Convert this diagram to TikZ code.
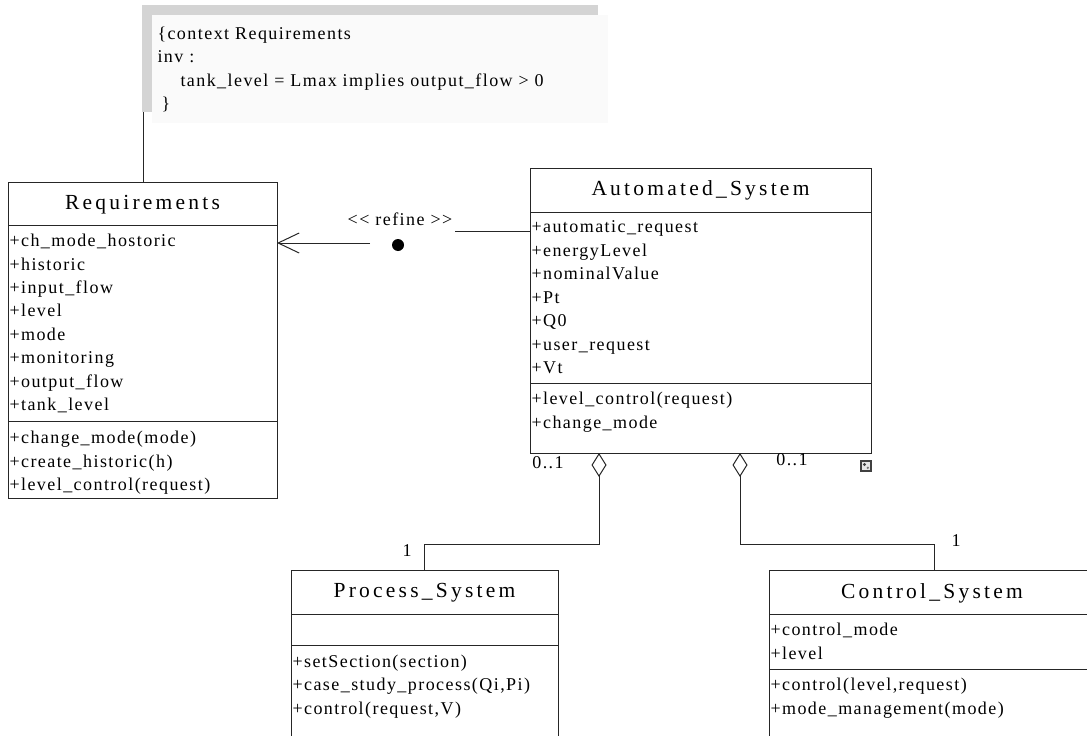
\documentclass[tikz,border=0pt]{standalone}
\usepackage{fontspec}
\setmainfont{Liberation Serif}
\usetikzlibrary{arrows.meta, positioning}

\definecolor{notefill}{HTML}{FAFAFA}
\definecolor{noteshade}{HTML}{D4D4D4}

\begin{document}
\begin{tikzpicture}[x=1pt, y=-1pt, line width=1pt,
    classbox/.style={draw=black!85, anchor=north west, inner sep=0pt, outer sep=0pt},
    ctitle/.style={inner sep=0pt, font=\fontsize{21.5}{24}\selectfont\addfontfeature{LetterSpace=15}},
    member/.style={anchor=west, inner sep=0pt, text height=12pt, text depth=4.5pt,
                   font=\fontsize{18}{20}\selectfont\addfontfeature{LetterSpace=8}},
    multlbl/.style={member, anchor=center},
    sepline/.style={draw=black!85},
    agg/.style={draw=black!85, {Diamond[open, length=24pt, width=15pt]}-}]
    \useasboundingbox (0,0) rectangle (1087,736);

    % OCL note
    \fill[noteshade] (142,5) rectangle (598,112);
    \node[fill=notefill, anchor=north west, inner sep=0pt, minimum width=456pt, minimum height=108pt] (note) at (151,14) {};
    \node[member] (note1) at (157,36) {\{context Requirements};
    \node[member] (note2) at (157,59) {inv :};
    \node[member] (note3) at (180,83) {tank\_level = Lmax implies output\_flow > 0};
    \node[member] (note4) at (161,106) {\}};

    % classes
    \node[classbox, minimum width=269pt, minimum height=316pt] (req) at (8,182) {};
    \node[ctitle] (req-t) at (142.5,205) {Requirements};
    \draw[sepline] (8,225) -- (277,225);
    \foreach \m [count=\i from 0] in {+ch\_mode\_hostoric, +historic, +input\_flow, +level,
        +mode, +monitoring, +output\_flow, +tank\_level}
      \node[member] (req-a\i) at (9,243+23.4*\i) {\m};
    \draw[sepline] (8,421) -- (277,421);
    \foreach \m [count=\i from 0] in {+change\_mode(mode), +create\_historic(h), +level\_control(request)}
      \node[member] (req-m\i) at (9,440+23.5*\i) {\m};

    \node[classbox, minimum width=341pt, minimum height=285pt] (auto) at (530,168) {};
    \node[ctitle] (auto-t) at (700.5,190) {Automated\_System};
    \draw[sepline] (530,212) -- (871,212);
    \foreach \m [count=\i from 0] in {+automatic\_request, +energyLevel, +nominalValue, +Pt,
        +Q0, +user\_request, +Vt}
      \node[member] (auto-a\i) at (531,229+23.5*\i) {\m};
    \draw[sepline] (530,383) -- (871,383);
    \foreach \m [count=\i from 0] in {+level\_control(request), +change\_mode}
      \node[member] (auto-m\i) at (531,401+23.5*\i) {\m};
    \node[draw=black!75, fill=black!10, line width=1.2pt, minimum size=10pt, inner sep=0pt] (grip) at (866,466) {};
    \fill[black!75] ([shift={(-1.5pt,1.5pt)}]grip.center) circle (1.6pt);
    \fill[black!55] ([shift={(1.8pt,-1.8pt)}]grip.center) circle (1.3pt);

    \node[classbox, minimum width=267pt, minimum height=170pt] (proc) at (291,570) {};
    \node[ctitle] (proc-t) at (424.5,593) {Process\_System};
    \draw[sepline] (291,614) -- (558,614);
    \draw[sepline] (291,645) -- (558,645);
    \foreach \m [count=\i from 0] in {+setSection(section), +case\_study\_process(Qi{,}Pi), +control(request{,}V)}
      \node[member] (proc-m\i) at (292,664+23.2*\i) {\m};

    \node[classbox, minimum width=330pt, minimum height=170pt] (ctrl) at (769,570) {};
    \node[ctitle] (ctrl-t) at (932,593) {Control\_System};
    \draw[sepline] (769,614) -- (1099,614);
    \foreach \m [count=\i from 0] in {+control\_mode, +level}
      \node[member] (ctrl-a\i) at (770,632+23.5*\i) {\m};
    \draw[sepline] (769,669) -- (1099,669);
    \foreach \m [count=\i from 0] in {+control(level{,}request), +mode\_management(mode)}
      \node[member] (ctrl-m\i) at (770,687+23.5*\i) {\m};

    % note anchor
    \coordinate (notefoot) at (143,112);
    \draw[black!85] (notefoot) -- (notefoot |- req.north);

    % refine dependency
    \coordinate (refR) at (455,231);
    \coordinate (refL) at (370,243);
    \node[multlbl] (refine) at (400,222) {\textless{}\textless{} refine \textgreater{}\textgreater};
    \node[circle, fill=black, inner sep=0pt, minimum size=12pt] (refdot) at (398,245) {};
    \draw[black!85] (auto.west |- refR) -- (refR);
    \draw[black!85, -{Straight Barb[length=21pt, width=20pt]}] (refL) -- (refL -| req.east);

    % aggregations
    \coordinate (aggL) at (599,453);
    \coordinate (aggR) at (740,453);
    \draw[agg] (aggL) -- ++(0,91) -| (proc.north);
    \draw[agg] (aggR) -- ++(0,91) -| (ctrl.north);
    \node[multlbl] (aggL-m) at (548,465) {0..1};
    \node[multlbl] (proc-m) at (407,553) {1};
    \node[multlbl] (aggR-m) at (792,462) {0..1};
    \node[multlbl] (ctrl-m) at (956,543) {1};
\end{tikzpicture}
\end{document}
